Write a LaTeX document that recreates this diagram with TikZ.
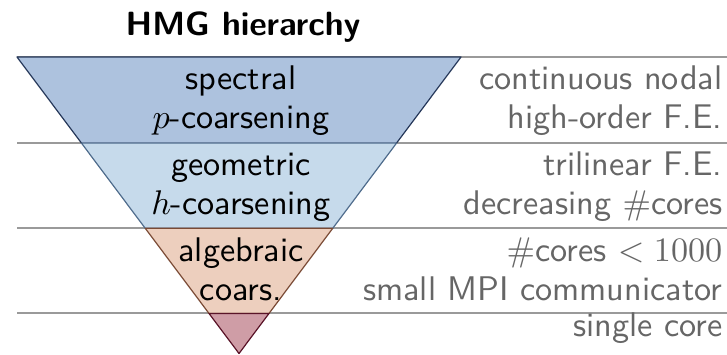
\documentclass[tikz,border=0pt]{standalone}
\usetikzlibrary{calc}
\definecolor{fillA}{HTML}{ADC2DE}
\definecolor{lineA}{HTML}{26385A}
\definecolor{fillB}{HTML}{C6DAEB}
\definecolor{lineB}{HTML}{4F6C8C}
\definecolor{fillC}{HTML}{EDCFBE}
\definecolor{lineC}{HTML}{7A4A35}
\definecolor{fillD}{HTML}{CF9DA6}
\definecolor{lineD}{HTML}{5A1428}
\definecolor{sepgray}{HTML}{9A9A9A}
\begin{document}
\begin{tikzpicture}[x=1pt,y=-1pt,
  sep/.style={draw=sepgray,line width=1.6pt},
  band/.style={line width=1.2pt,line join=round},
  ctext/.style={font=\sffamily,scale=3.42,anchor=base,inner sep=0pt},
  rtext/.style={font=\sffamily,text=black!60,scale=3.42,anchor=base east,inner sep=0pt},
  titletext/.style={font=\sffamily\bfseries,scale=3.36,anchor=base,inner sep=0pt}]
\useasboundingbox (0,0) rectangle (727,354);
% triangle corners
\coordinate (TL) at (17,57);
\coordinate (TR) at (461,57);
\coordinate (A) at (239,353.5);
\coordinate (L1) at ($(TL)!0.2905!(A)$);
\coordinate (R1) at ($(TR)!0.2905!(A)$);
\coordinate (L2) at ($(TL)!0.5777!(A)$);
\coordinate (R2) at ($(TR)!0.5777!(A)$);
\coordinate (L3) at ($(TL)!0.8649!(A)$);
\coordinate (R3) at ($(TR)!0.8649!(A)$);
% separator ends
\coordinate (S1) at (17,143);
\coordinate (S2) at (17,228);
\coordinate (S3) at (17,313);
\coordinate (E0) at (727,57);
\coordinate (E1) at (727,143);
\coordinate (E2) at (727,228);
\coordinate (E3) at (727,313);
% separators
\draw[sep] (TL) -- (E0);
\draw[sep] (S1) -- (E1);
\draw[sep] (S2) -- (E2);
\draw[sep] (S3) -- (E3);
% bands
\filldraw[band,fill=fillA,draw=lineA] (TL) -- (TR) -- (R1) -- (L1) -- cycle;
\filldraw[band,fill=fillB,draw=lineB] (L1) -- (R1) -- (R2) -- (L2) -- cycle;
\filldraw[band,fill=fillC,draw=lineC] (L2) -- (R2) -- (R3) -- (L3) -- cycle;
\filldraw[band,fill=fillD,draw=lineD] (L3) -- (R3) -- (A) -- cycle;
% title
\node[titletext] (title) at (243,35) {HMG hierarchy};
% centre texts
\node[ctext] (c1a) at (241,89) {spectral};
\node[ctext] (c1b) at (241,128) {$p$-coarsening};
\node[ctext] (c2a) at (241,175) {geometric};
\node[ctext] (c2b) at (241,214) {$h$-coarsening};
\node[ctext] (c3a) at (241,261) {algebraic};
\node[ctext] (c3b) at (241,300) {coars.};
% right texts
\node[rtext] (r1a) at (723,89) {continuous nodal};
\node[rtext] (r1b) at (723,128) {high-order F.E.};
\node[rtext] (r2a) at (723,175) {trilinear F.E.};
\node[rtext] (r2b) at (723,214) {decreasing $\#$cores};
\node[rtext] (r3a) at (723,261) {$\#$cores $<1000$};
\node[rtext] (r3b) at (723,300) {small MPI communicator};
\node[rtext] (r4a) at (723,336) {single core};
\end{tikzpicture}
\end{document}
